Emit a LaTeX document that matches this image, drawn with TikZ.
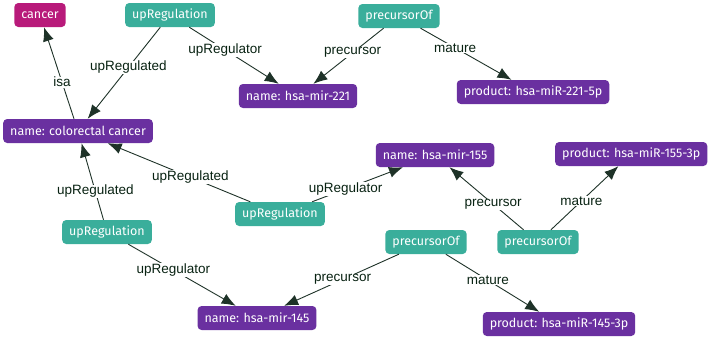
\documentclass[tikz,border=0pt]{standalone}
\usepackage{fontspec}
\setmainfont{Fira Sans}
\newfontfamily\edgefont{Liberation Sans}
\usetikzlibrary{arrows.meta}
\definecolor{entpurple}{RGB}{106,48,160}
\definecolor{relteal}{RGB}{58,174,155}
\definecolor{conceptpink}{RGB}{184,26,122}
\definecolor{linkdark}{RGB}{30,50,40}
\definecolor{lblgreen}{RGB}{8,34,18}

\begin{document}
\begin{tikzpicture}[x=1pt, y=-1pt,
	entity/.style = {shape=rectangle, rounded corners=4pt, fill=entpurple,
		text=white, minimum height=24pt, inner xsep=7pt,
		font=\fontsize{12.5}{14}\selectfont},
	relation/.style = {entity, fill=relteal},
	concept/.style = {entity, fill=conceptpink},
	link/.style = {draw=linkdark, line width=0.9pt, -{Latex[length=14pt,width=11pt]}},
	lbl/.style = {font=\edgefont\fontsize{13.5}{15}\selectfont, text=lblgreen,
		fill=white, inner sep=0.5pt}]
	\useasboundingbox (0,0) rectangle (708,338);
	\node[concept] (cancer) at (40,15) {cancer};
	\node[entity] (colorectal) at (78,131) {name: colorectal cancer};
	\node[relation] (upTop) at (170,15) {upRegulation};
	\node[relation] (upMid) at (280,214) {upRegulation};
	\node[relation] (upLeft) at (107,232) {upRegulation};
	\node[relation] (precTop) at (399,16) {precursorOf};
	\node[relation] (precMid) at (426,242) {precursorOf};
	\node[relation] (precRight) at (538,242) {precursorOf};
	\node[entity] (mir221) at (298,96) {name: hsa-mir-221};
	\node[entity] (mir155) at (435,155) {name: hsa-mir-155};
	\node[entity] (mir145) at (257,318) {name: hsa-mir-145};
	\node[entity] (prod221) at (533,92) {product: hsa-miR-221-5p};
	\node[entity, anchor=west] (prod155) at (555,154) {product: hsa-miR-155-3p};
	\node[entity] (prod145) at (559,324) {product: hsa-miR-145-3p};
	\draw[link] (colorectal) -- node[lbl, pos=0.4] {isa} (cancer);
	\draw[link] (upTop) -- node[lbl, pos=0.44] {upRegulated} (colorectal);
	\draw[link] (upTop) -- node[lbl, pos=0.4] {upRegulator} (mir221);
	\draw[link] (precTop) -- node[lbl, pos=0.44] {precursor} (mir221);
	\draw[link] (precTop) -- node[lbl, pos=0.38] {mature} (prod221);
	\draw[link] (upMid) -- node[lbl, pos=0.42] {upRegulated} (colorectal);
	\draw[link] (upMid) -- node[lbl, pos=0.37] {upRegulator} (mir155);
	\draw[link] (upLeft) -- node[lbl, pos=0.37] {upRegulated} (colorectal);
	\draw[link] (upLeft) -- node[lbl, pos=0.42] {upRegulator} (mir145);
	\draw[link] (precMid) -- node[lbl, pos=0.49] {precursor} (mir145);
	\draw[link] (precMid) -- node[lbl, pos=0.45] {mature} (prod145);
	\draw[link] (precRight) -- node[lbl, pos=0.41] {precursor} (mir155);
	\draw[link] (precRight) -- node[lbl, pos=0.45] {mature} (prod155);
\end{tikzpicture}
\end{document}
